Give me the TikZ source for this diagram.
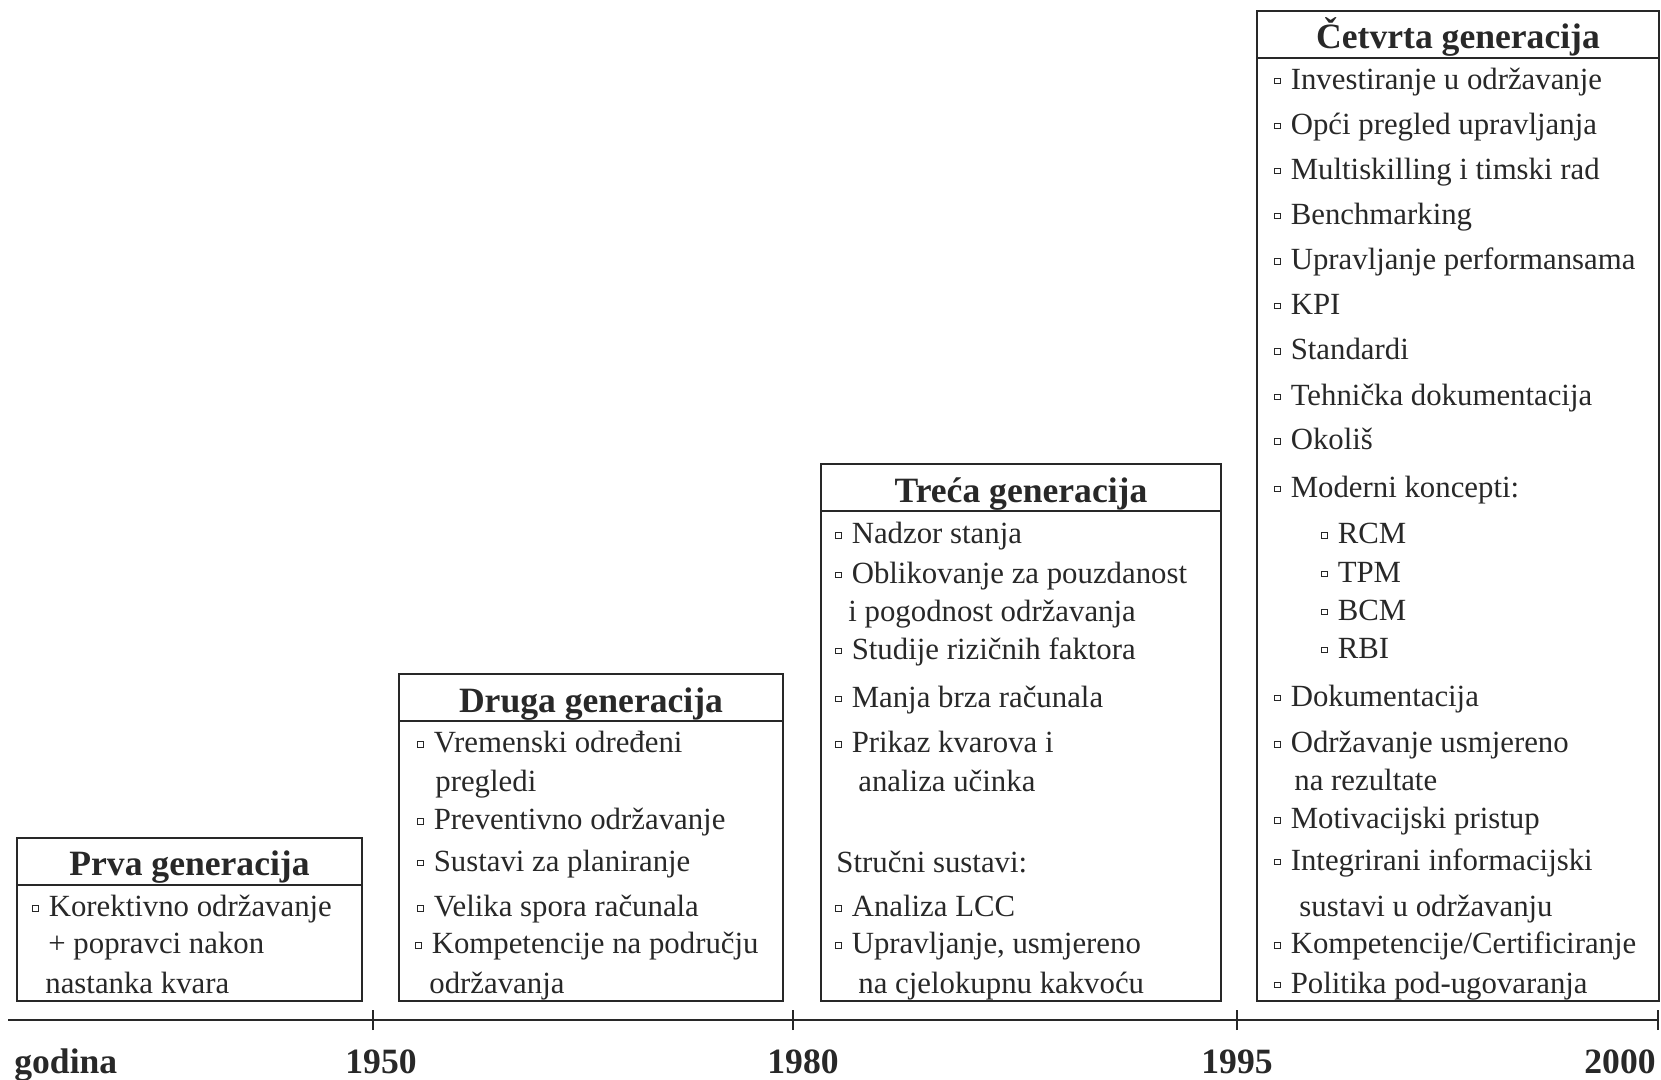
\documentclass[tikz,border=0pt]{standalone}
\usepackage{fontspec}
\setmainfont{Liberation Serif}
\definecolor{ink}{RGB}{40,40,40}
% small hollow square used as list bullet
\newcommand\sqbul{\raisebox{0.2em}{\fboxsep=0pt\fboxrule=0.4pt\fbox{\rule{0pt}{0.15em}\hspace{0.15em}}}\hspace{0.33em}}
\begin{document}
\begin{tikzpicture}[x=0.5pt,y=-0.5pt,
  frame/.style={draw=ink, line width=0.75pt},
  axis/.style={draw=ink, line width=1pt},
  gentitle/.style={font=\fontsize{17.8}{20}\selectfont\bfseries, text=ink, inner sep=0pt, anchor=mid, yshift=-4pt},
  item/.style={font=\fontsize{15.4}{18}\selectfont, text=ink, inner sep=0pt, anchor=mid west, yshift=-3.3pt},
  year/.style={font=\fontsize{17.8}{20}\selectfont\bfseries, text=ink, inner sep=0pt, anchor=base}]
\useasboundingbox (0,0) rectangle (1661,1080);

% ---------- time axis ----------
\coordinate (ax0) at (8,1020);
\coordinate (ax1) at (1659,1020);
\coordinate (t50) at (373,1020);
\coordinate (t80) at (793,1020);
\coordinate (t95) at (1237,1020);
\coordinate (t00) at (1658,1020);
\draw[axis] (ax0) -- (ax1);
\foreach \t in {t50,t80,t95,t00}
  \draw[axis] ([yshift=-5pt]\t) -- ([yshift=5pt]\t);
\node[year, anchor=base west] (ygod) at (14,1073) {godina};
\node[year] (y50) at (381,1073) {1950};
\node[year] (y80) at (803,1073) {1980};
\node[year] (y95) at (1237,1073) {1995};
\node[year, anchor=base east] (y00) at (1656,1073) {2000};

% ---------- first generation ----------
\draw[frame] (17,838) rectangle (362,1001);
\draw[frame] (17,885) -- (362,885);
\node[gentitle] (h1) at (189.5,863) {Prva generacija};
\node[item] (a1) at (32,905.7) {\sqbul Korektivno održavanje};
\node[item] (a2) at (48,942.8) {+ popravci nakon};
\node[item] (a3) at (45,982) {nastanka kvara};

% ---------- second generation ----------
\draw[frame] (399,674) rectangle (783,1001);
\draw[frame] (399,721) -- (783,721);
\node[gentitle] (h2) at (591,700) {Druga generacija};
\node[item] (b1) at (417,741.5) {\sqbul Vremenski određeni};
\node[item] (b2) at (435,780.7) {pregledi};
\node[item] (b3) at (417,818.8) {\sqbul Preventivno održavanje};
\node[item] (b4) at (417,860.2) {\sqbul Sustavi za planiranje};
\node[item] (b5) at (417,905.7) {\sqbul Velika spora računala};
\node[item] (b6) at (415,942.8) {\sqbul Kompetencije na području};
\node[item] (b7) at (429,982) {održavanja};

% ---------- third generation ----------
\draw[frame] (821,464) rectangle (1221,1001);
\draw[frame] (821,511) -- (1221,511);
\node[gentitle] (h3) at (1021,490) {Treća generacija};
\node[item] (c1) at (835,532.8) {\sqbul Nadzor stanja};
\node[item] (c2) at (835,572) {\sqbul Oblikovanje za pouzdanost};
\node[item] (c3) at (848,610.2) {i pogodnost održavanja};
\node[item] (c4) at (835,648.3) {\sqbul Studije rizičnih faktora};
\node[item] (c5) at (835,696) {\sqbul Manja brza računala};
\node[item] (c6) at (835,741.5) {\sqbul Prikaz kvarova i};
\node[item] (c7) at (858,780.7) {analiza učinka};
\node[item] (c8) at (836,861.2) {Stručni sustavi:};
\node[item] (c9) at (835,905.7) {\sqbul Analiza LCC};
\node[item] (c10) at (835,942.8) {\sqbul Upravljanje, usmjereno};
\node[item] (c11) at (858,982) {na cjelokupnu kakvoću};

% ---------- fourth generation ----------
\draw[frame] (1257,11) rectangle (1659,1001);
\draw[frame] (1257,58) -- (1659,58);
\node[gentitle] (h4) at (1458,36) {Četvrta generacija};
\node[item] (d1) at (1274,78.4) {\sqbul Investiranje u održavanje};
\node[item] (d2) at (1274,122.9) {\sqbul Opći pregled upravljanja};
\node[item] (d3) at (1274,168.4) {\sqbul Multiskilling i timski rad};
\node[item] (d4) at (1274,212.9) {\sqbul Benchmarking};
\node[item] (d5) at (1274,258.5) {\sqbul Upravljanje performansama};
\node[item] (d6) at (1274,303) {\sqbul KPI};
\node[item] (d7) at (1274,348.5) {\sqbul Standardi};
\node[item] (d8) at (1274,394.1) {\sqbul Tehnička dokumentacija};
\node[item] (d9) at (1274,438.6) {\sqbul Okoliš};
\node[item] (d10) at (1274,486.2) {\sqbul Moderni koncepti:};
\node[item] (d11) at (1321,532.8) {\sqbul RCM};
\node[item] (d12) at (1321,571) {\sqbul TPM};
\node[item] (d13) at (1321,609.1) {\sqbul BCM};
\node[item] (d14) at (1321,647.2) {\sqbul RBI};
\node[item] (d15) at (1274,694.9) {\sqbul Dokumentacija};
\node[item] (d16) at (1274,741.5) {\sqbul Održavanje usmjereno};
\node[item] (d17) at (1294,779.6) {na rezultate};
\node[item] (d18) at (1274,817.8) {\sqbul Motivacijski pristup};
\node[item] (d19) at (1274,859.1) {\sqbul Integrirani informacijski};
\node[item] (d20) at (1299,905.7) {sustavi u održavanju};
\node[item] (d21) at (1274,942.8) {\sqbul Kompetencije/Certificiranje};
\node[item] (d22) at (1274,982) {\sqbul Politika pod-ugovaranja};
\end{tikzpicture}
\end{document}
